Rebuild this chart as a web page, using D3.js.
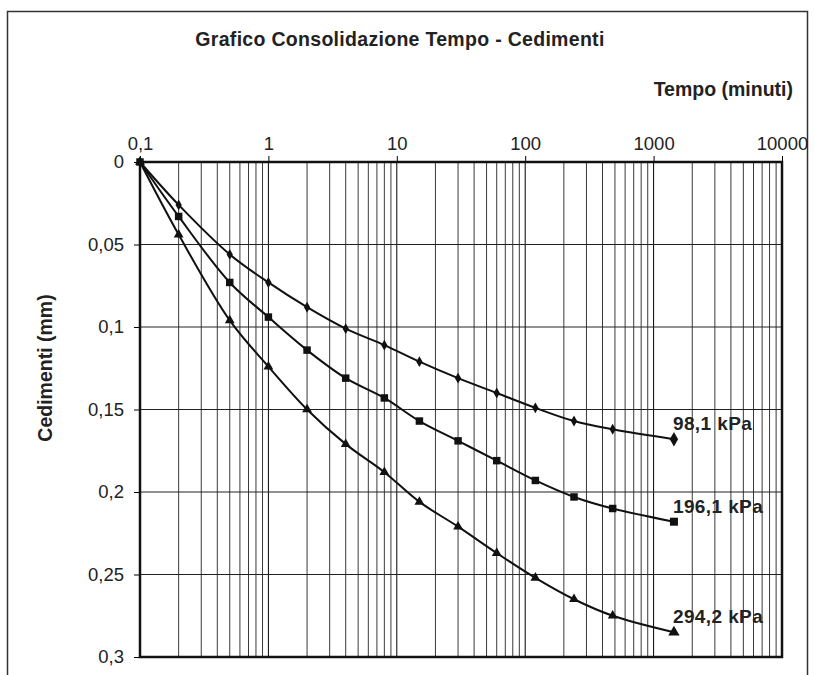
<!DOCTYPE html>
<html>
<head>
<meta charset="utf-8">
<script src="https://cdn.jsdelivr.net/npm/d3@7/dist/d3.min.js"></script>
<style>
  html, body { margin: 0; padding: 0; background: #fff; }
  svg { display: block; font-family: "Liberation Sans", Arial, sans-serif; }
</style>
</head>
<body>
<svg id="chart" width="815" height="675"></svg>
<script>
// Tempi di lettura (minuti) e cedimenti (mm) per ciascun gradino di carico
const tempi = [0.1, 0.2, 0.5, 1, 2, 4, 8, 15, 30, 60, 120, 240, 480, 1440];
const ced98 = [0, 0.026, 0.056, 0.073, 0.088, 0.101, 0.111, 0.121, 0.131, 0.140, 0.149, 0.157, 0.162, 0.168];
const ced196 = [0, 0.033, 0.073, 0.094, 0.114, 0.131, 0.143, 0.157, 0.169, 0.181, 0.193, 0.203, 0.210, 0.218];
const ced294 = [0, 0.044, 0.096, 0.124, 0.150, 0.171, 0.188, 0.206, 0.221, 0.237, 0.252, 0.265, 0.275, 0.285];
const carichi = ["98,1 kPa", "196,1 kPa", "294,2 kPa"];
const marcatori = ["diamond", "square", "triangle"];
const xTicks = [0.1, 1, 10, 100, 1000, 10000];
const yTicks = [0, 0.05, 0.1, 0.15, 0.2, 0.25, 0.3];

const serie = [ced98, ced196, ced294].map((vals, i) => ({
  nome: carichi[i],
  marcatore: marcatori[i],
  punti: tempi.map((t, j) => ({ t, s: vals[j] }))
}));

const svg = d3.select("#chart");
const area = { sx: 140, dx: 782, alto: 162, basso: 657 };

const x = d3.scaleLog().domain([0.1, 10000]).range([area.sx, area.dx]);
const y = d3.scaleLinear().domain([0, 0.3]).range([area.alto, area.basso]);

const it = d3.formatLocale({ decimal: ",", thousands: ".", grouping: [3], currency: ["", " €"] });
const fmtX = it.format(".1~f");
const fmtY = it.format(".2~f");

// cornice esterna
svg.append("rect")
  .attr("x", 7.5).attr("y", 11.5).attr("width", 800).attr("height", 700)
  .attr("fill", "none").attr("stroke", "#333").attr("stroke-width", 1.5);

// titoli
svg.append("text")
  .attr("x", 400).attr("y", 46).attr("text-anchor", "middle")
  .attr("font-size", 19.5).attr("font-weight", "bold").attr("fill", "#222")
  .attr("letter-spacing", 0.3)
  .text("Grafico Consolidazione Tempo - Cedimenti");

svg.append("text")
  .attr("x", 793).attr("y", 96).attr("text-anchor", "end")
  .attr("font-size", 19.5).attr("font-weight", "bold").attr("fill", "#222")
  .text("Tempo (minuti)");

svg.append("text")
  .attr("transform", "translate(52,368) rotate(-90)")
  .attr("text-anchor", "middle")
  .attr("font-size", 19.5).attr("font-weight", "bold").attr("fill", "#222")
  .text("Cedimenti (mm)");

// griglia verticale: suddivisioni logaritmiche
const minori = [];
xTicks.slice(0, -1).forEach(d => { for (let k = 2; k <= 9; k++) minori.push(d * k); });
const grid = svg.append("g");
grid.selectAll("line.minore").data(minori).join("line")
  .attr("class", "minore")
  .attr("x1", d => x(d)).attr("x2", d => x(d))
  .attr("y1", area.alto).attr("y2", area.basso)
  .attr("stroke", "#3a3a3a").attr("stroke-width", 1);
grid.selectAll("line.decade").data(xTicks).join("line")
  .attr("class", "decade")
  .attr("x1", d => x(d)).attr("x2", d => x(d))
  .attr("y1", area.alto).attr("y2", area.basso)
  .attr("stroke", "#000").attr("stroke-width", 1);
grid.selectAll("line.oriz").data(yTicks).join("line")
  .attr("class", "oriz")
  .attr("x1", area.sx).attr("x2", area.dx)
  .attr("y1", d => y(d)).attr("y2", d => y(d))
  .attr("stroke", "#222").attr("stroke-width", 1);

// assi
const axX = svg.append("g").attr("transform", `translate(0,${area.alto})`)
  .call(d3.axisTop(x).tickValues(xTicks).tickFormat(fmtX).tickSize(6).tickPadding(6));
const axY = svg.append("g").attr("transform", `translate(${area.sx},0)`)
  .call(d3.axisLeft(y).tickValues(yTicks).tickFormat(fmtY).tickSize(6).tickPadding(10));
[axX, axY].forEach(a => {
  a.select(".domain").remove();
  a.selectAll(".tick line").attr("stroke", "#000").attr("stroke-width", 1);
  a.selectAll(".tick text").attr("font-size", 18.5).attr("fill", "#222")
    .attr("font-family", "'Liberation Sans', Arial, sans-serif");
});

// bordo dell'area del grafico
svg.append("rect")
  .attr("x", area.sx).attr("y", area.alto)
  .attr("width", area.dx - area.sx).attr("height", area.basso - area.alto)
  .attr("fill", "none").attr("stroke", "#111").attr("stroke-width", 2.5);

// curve
const linea = d3.line()
  .x(d => x(d.t)).y(d => y(d.s))
  .curve(d3.curveCatmullRom.alpha(0.5));

const simboli = { diamond: d3.symbolDiamond, square: d3.symbolSquare, triangle: d3.symbolTriangle };
const dimensioni = { diamond: [34, 60], square: [56, 64], triangle: [42, 56] };

serie.forEach(sr => {
  const g = svg.append("g");
  g.append("path").datum(sr.punti)
    .attr("d", linea).attr("fill", "none")
    .attr("stroke", "#111").attr("stroke-width", 2);
  const n = sr.punti.length;
  g.selectAll("path.m").data(sr.punti).join("path")
    .attr("class", "m")
    .attr("transform", d => `translate(${x(d.t)},${y(d.s)})`)
    .attr("d", (d, i) => d3.symbol(simboli[sr.marcatore], dimensioni[sr.marcatore][i === n - 1 ? 1 : 0])())
    .attr("fill", "#111");
  const ultimo = sr.punti[n - 1];
  g.append("text")
    .attr("x", x(ultimo.t) - 1).attr("y", y(ultimo.s) - 9)
    .attr("font-size", 19).attr("font-weight", "bold").attr("fill", "#222")
    .attr("letter-spacing", 0.4)
    .text(sr.nome);
});
</script>
</body>
</html>
